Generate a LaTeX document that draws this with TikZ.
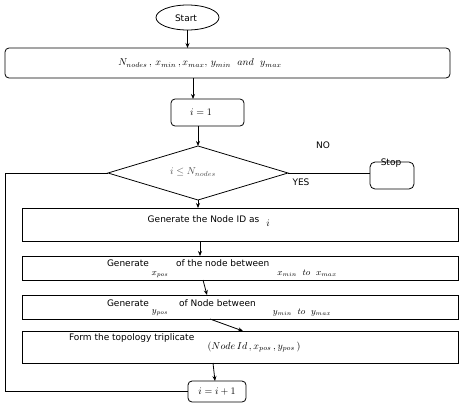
\documentclass[tikz,border=0pt]{standalone}
\usepackage{fontspec}
\setmainfont{DejaVu Sans}
\usetikzlibrary{shapes.geometric,arrows.meta}
\begin{document}
\begin{tikzpicture}[x=1pt,y=-1pt,
  every node/.style={inner sep=0pt,outer sep=0pt},
  boxs/.style={draw,line width=0.8pt,rectangle},
  rbox/.style={boxs,rounded corners=4pt},
  lbl/.style={font=\fontsize{9}{10}\selectfont},
  mth/.style={font=\fontsize{10}{11}\selectfont},
  arr/.style={line width=0.8pt,-{Stealth[length=5pt,width=4pt]}},
  ln/.style={line width=0.8pt}]
\useasboundingbox (0,0) rectangle (465,410);
% shapes
\node[draw,line width=0.8pt,ellipse,minimum width=63pt,minimum height=25pt] (start) at (187.5,17.5) {};
\node[rbox,minimum width=445pt,minimum height=30pt] (input) at (227.5,63) {};
\node[rbox,minimum width=73pt,minimum height=27pt] (init) at (207.5,112.5) {};
\node[draw,line width=0.8pt,diamond,minimum width=180pt,minimum height=54pt] (dia) at (198,173) {};
\node[draw,line width=0.8pt,rectangle,rounded corners=5pt,minimum width=44pt,minimum height=27pt] (stop) at (392,175.5) {};
\node[boxs,minimum width=436pt,minimum height=33pt] (b1) at (240,224.5) {};
\node[boxs,minimum width=436pt,minimum height=24pt] (b2) at (240,268) {};
\node[boxs,minimum width=436pt,minimum height=24pt] (b3) at (240,307) {};
\node[boxs,minimum width=436pt,minimum height=32pt] (b4) at (240,347) {};
\node[rbox,minimum width=58pt,minimum height=21pt] (inc) at (217,391.5) {};
% texts
\node[lbl] (tstart) at (186,18) {Start};
\node[mth] (tinput) at (200,63) {$N_{nodes}\,,\,x_{min}\,,x_{max},\,y_{min}\ \ and\ \ y_{max}$};
\node[mth] (tinit) at (201,112) {$i=1$};
\node[mth,text=black!70] (tdia) at (193,172) {$i\leq N_{nodes}$};
\node[lbl] (tstop) at (391,163.5) {Stop};
\node[lbl] (tno) at (323,145) {NO};
\node[lbl] (tyes) at (301,182) {YES};
\node[lbl] (t1) at (203.5,219) {Generate the Node ID as};
\node[mth] (t1i) at (268,223.5) {$i$};
\node[lbl,anchor=west] (t2a) at (107,263) {Generate};
\node[mth,font=\fontsize{9}{10}\selectfont] (t2b) at (160,275) {$x_{pos}$};
\node[lbl,anchor=west] (t2c) at (176,263) {of the node between};
\node[mth,font=\fontsize{9}{10}\selectfont] (t2d) at (307,273) {$x_{min}\ \ to\ \ x_{max}$};
\node[lbl,anchor=west] (t3a) at (107,303) {Generate};
\node[mth,font=\fontsize{9}{10}\selectfont] (t3b) at (160,313) {$y_{pos}$};
\node[lbl,anchor=west] (t3c) at (179,303) {of Node between};
\node[mth,font=\fontsize{9}{10}\selectfont] (t3d) at (302,313) {$y_{min}\ \ to\ \ y_{max}$};
\node[lbl,anchor=west] (t4a) at (69,338) {Form the topology triplicate};
\node[mth] (t4b) at (254,347) {$(Node\,Id\,,x_{pos}\,,y_{pos}\,)$};
\node[mth] (tinc) at (217,391.5) {$i=i+1$};
% connectors
\draw[arr] (start.south) -- (input.north -| start.south);
\draw[arr] ([xshift=-34.5pt]input.south) -- ([xshift=-14.5pt]init.north);
\draw[arr] ([xshift=-9.5pt]init.south) -- (dia.north);
\draw[ln] (dia.east) -- (dia.east -| stop.west);
\draw[arr] (dia.south) -- (b1.north -| dia.south);
\draw[arr] ([xshift=-40pt]b1.south) -- ([xshift=-40pt]b2.north);
\draw[arr] ([xshift=-37pt]b2.south) -- ([xshift=-33pt]b3.north);
\draw[arr] ([xshift=-30pt]b3.south) -- ([xshift=3pt]b4.north);
\draw[arr] ([xshift=-27pt]b4.south) -- ([xshift=-2pt]inc.north);
\coordinate (lc) at (5,391.5);
\draw[ln] (inc.west) -- (lc) |- (dia.west);
\end{tikzpicture}
\end{document}
